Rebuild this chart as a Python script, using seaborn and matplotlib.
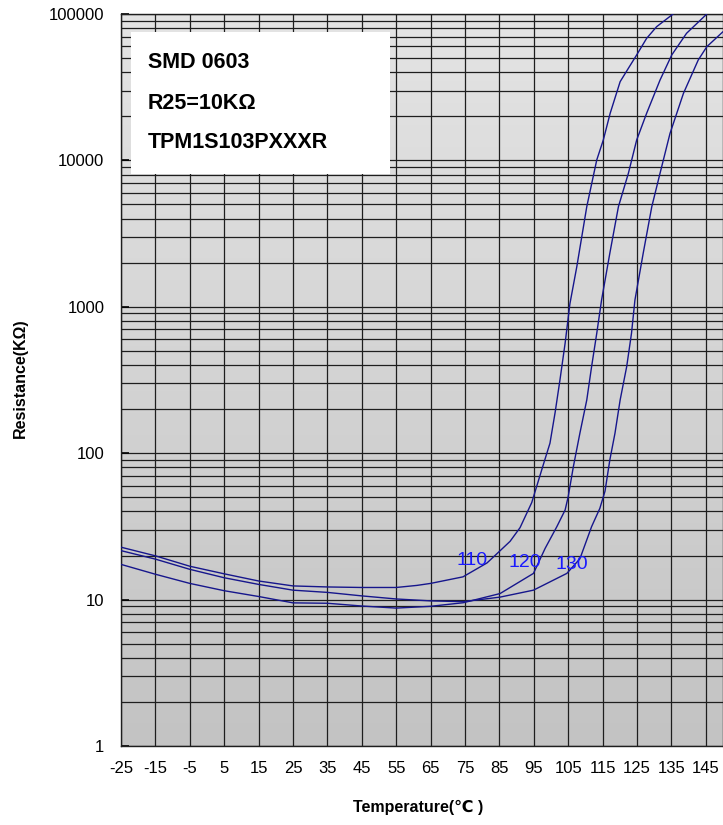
import numpy as np
import pandas as pd
import matplotlib
matplotlib.use('Agg')
import matplotlib.pyplot as plt
from matplotlib.patches import Rectangle
from matplotlib.ticker import FixedLocator, LogLocator, NullFormatter, FixedFormatter
import seaborn as sns

# curve readings: temperature (C) vs resistance (kOhm)
t_110 = [-25, -15, -5, 5, 15, 25, 35, 45, 55, 61, 65, 74.4, 81.4, 84.2, 88.1, 91, 94.4,
         95.9, 97.8, 99.7, 101.2, 102.6, 104.1, 105.5, 107.5, 110.4, 113.3, 115.2,
         117.2, 120.1, 122.5, 124.9, 127.8, 130.7, 135.5]
r_110 = [22.8, 19.9, 16.9, 15.0, 13.4, 12.4, 12.2, 12.1, 12.1, 12.5, 12.9, 14.3, 17.8,
         20.5, 25.0, 31.0, 46, 60, 84, 117, 190, 316, 563, 1050, 1879, 4830, 10070,
         13770, 20980, 34500, 42600, 52500, 68200, 81900, 100000]

t_120 = [-25, -15, -5, 5, 15, 25, 35, 45, 55, 65, 74.5, 85.2, 94.9, 98.3, 101.7, 104.1,
         105.0, 106.5, 108.4, 110.4, 111.8, 113.3, 114.7, 117.1, 119.6, 122.5, 124.9,
         127.8, 131.7, 135.1, 139.4, 145.3]
r_120 = [17.4, 14.9, 12.9, 11.5, 10.5, 9.5, 9.44, 9.04, 8.75, 9.0, 9.52, 11.0, 15.1,
         22.4, 31.5, 40.9, 50.5, 80.9, 137, 231, 390, 659, 1112, 2320, 4830, 8170,
         13770, 20980, 35400, 52500, 73800, 100000]

t_130 = [-25, -15, -5, 5, 15, 25, 35, 45, 55, 65, 74.5, 85.2, 94.9, 104.6, 108.4, 111.8,
         114.2, 115.7, 117.1, 118.6, 120.1, 122.0, 123.4, 124.4, 126.8, 129.3, 131.7,
         134.6, 138.5, 142.8, 145.3, 150]
r_130 = [21.6, 18.9, 16.1, 14.1, 12.7, 11.6, 11.2, 10.6, 10.1, 9.8, 9.68, 10.4, 11.6,
         15.1, 19.0, 31.5, 42.0, 55.0, 89.9, 137, 231, 390, 659, 1112, 2320, 4830,
         8170, 15300, 28700, 48500, 59800, 75700]

curve_names = ['110', '120', '130']
label_t = [77.0, 92.4, 106.1]
label_r = [18.4, 17.8, 17.5]

x_ticks = list(range(-25, 150, 10))
x_tick_labels = [str(v) for v in x_ticks]
y_ticks = [1, 10, 100, 1000, 10000, 100000]
y_tick_labels = ['1', '10', '100', '1000', '10000', '100000']
info_lines = ['SMD 0603', 'R25=10K\u03a9', 'TPM1S103PXXXR']

sns.set_theme(style='white')
plt.rcParams['font.family'] = ['Liberation Sans', 'DejaVu Sans']
plt.rcParams['text.color'] = 'black'
plt.rcParams['axes.labelcolor'] = 'black'

df = pd.concat([
    pd.DataFrame({'T': t, 'R': r, 'curve': n})
    for t, r, n in zip([t_110, t_120, t_130], [r_110, r_120, r_130], curve_names)
])

fig = plt.figure(figsize=(7.23, 8.25), dpi=100)
ax = fig.add_axes([121 / 723, 79 / 825, 602 / 723, 732 / 825])

# gray gradient background
grad = np.linspace(0, 1, 256).reshape(-1, 1)
ax.imshow(grad, cmap=matplotlib.colors.LinearSegmentedColormap.from_list(
    'bg', ['#e4e4e4', '#c3c3c3']), aspect='auto', extent=[0, 1, 0, 1],
    transform=ax.transAxes, zorder=0)

line_color = '#16168c'
sns.lineplot(data=df, x='T', y='R', hue='curve', palette=[line_color] * 3,
             estimator=None, sort=False, legend=False, linewidth=1.0, ax=ax, zorder=4)

ax.set_yscale('log')
ax.set_xlim(-25, 150)
ax.set_ylim(1, 100000)
ax.xaxis.set_major_locator(FixedLocator(x_ticks))
ax.xaxis.set_major_formatter(FixedFormatter(x_tick_labels))
ax.yaxis.set_major_locator(FixedLocator(y_ticks))
ax.yaxis.set_major_formatter(FixedFormatter(y_tick_labels))
ax.yaxis.set_minor_locator(LogLocator(base=10, subs=np.arange(2, 10)))
ax.yaxis.set_minor_formatter(NullFormatter())

ax.grid(True, which='major', axis='x', color='#1e1e1e', linewidth=0.9, zorder=1)
ax.grid(True, which='both', axis='y', color='#1e1e1e', linewidth=0.9, zorder=1)
ax.set_axisbelow(True)

ax.tick_params(axis='x', which='major', length=0, pad=11, labelsize=12,
               colors='black')
ax.tick_params(axis='y', which='major', direction='in', length=6, width=1.2,
               pad=12, labelsize=12, colors='black', left=True)
ax.tick_params(axis='y', which='minor', length=0)
for s in ax.spines.values():
    s.set_color('#1e1e1e')
    s.set_linewidth(1.0)

ax.set_xlabel('Temperature(\u2103 )', fontsize=11.5, fontweight='bold', color='black')
ax.set_ylabel('Resistance(K\u03a9)', fontsize=11.5, fontweight='bold', color='black')
ax.xaxis.set_label_coords(0.493, -0.073)
ax.yaxis.set_label_coords(-0.155, 0.503)

# info box
ax.add_patch(Rectangle((0.0166, 0.781), 0.43, 0.194, transform=ax.transAxes,
                       facecolor='white', edgecolor='none', zorder=3))
for txt, yy in zip(info_lines, [0.934, 0.878, 0.824]):
    ax.text(0.045, yy, txt, transform=ax.transAxes, fontsize=15.5, fontweight='bold',
            va='center', ha='left', color='black', zorder=5)

for name, tx, ry in zip(curve_names, label_t, label_r):
    ax.text(tx, ry, name, color='#1a1aff', fontsize=14, ha='center', va='center', zorder=5)

fig.savefig('out.png', dpi=100)
